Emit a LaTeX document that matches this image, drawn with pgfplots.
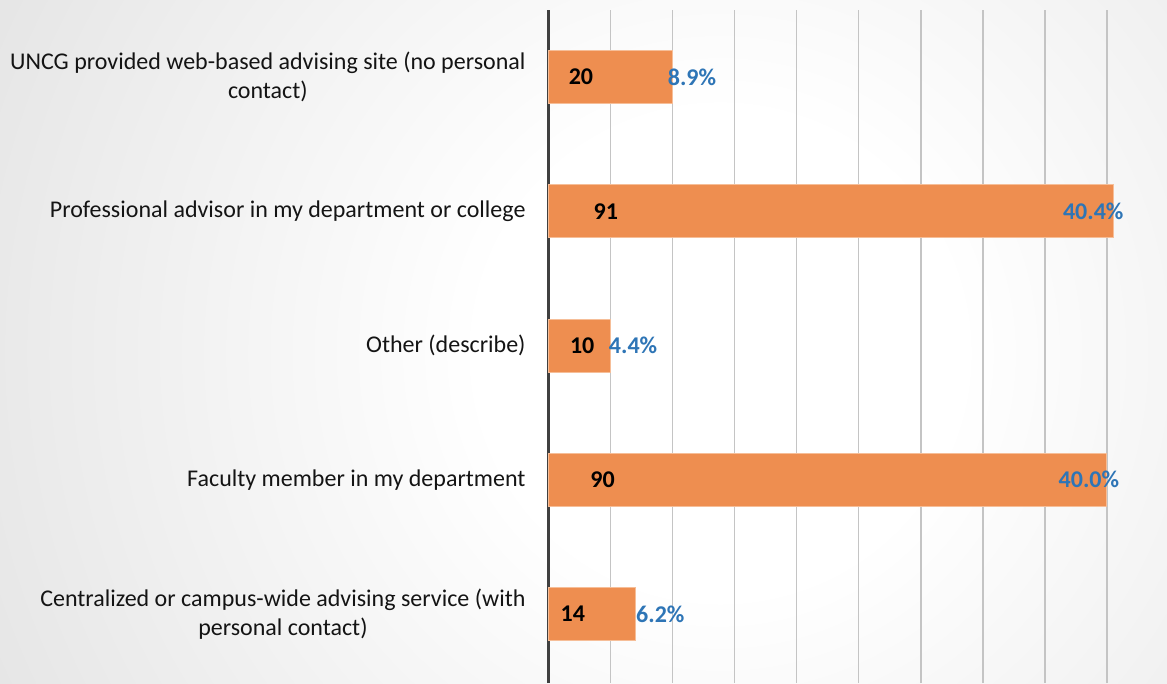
\documentclass[border=0pt]{standalone}
\usepackage{pgfplots}
\usepackage{pgfplotstable}
\pgfplotsset{compat=1.18}
\usepackage{fontspec}
\setmainfont{Carlito}
\definecolor{barorange}{HTML}{EE8E50}
\definecolor{baredge}{HTML}{F6BE98}
\definecolor{labblue}{HTML}{2E75B6}
\definecolor{gridc}{HTML}{C4C4C4}
\definecolor{axisc}{HTML}{404040}
\pgfdeclareradialshading{bgshade}{\pgfpoint{0bp}{0bp}}{color(0bp)=(white); color(6bp)=(white); color(37bp)=(black!22); color(50bp)=(black!24)}

\pgfplotstableread{
y v
0 14
1 90
2 10
3 91
4 20
}\bars
\pgfplotstableread{
y lx lab
0 3.9 14
1 8.7 90
2 5.4 10
3 9.2 91
4 5.2 20
}\counts
\pgfplotstableread{
y px lab
0 18.0 6.2
1 87.1 40.0
2 13.6 4.4
3 87.8 40.4
4 23.1 8.9
}\pcts

\begin{document}
\begin{tikzpicture}[x=1pt,y=1pt]
\path[use as bounding box] (0,0) rectangle (1167,683);
\begin{scope}
\clip (0,0) rectangle (1167,683);
\shade[shading=bgshade] (720,330) circle (1000);
\end{scope}
\begin{axis}[
  at={(548.7pt,0pt)}, anchor=south west,
  scale only axis, width=618.3pt, height=673pt,
  xmin=0, xmax=99.7, ymin=-0.514, ymax=4.5,
  clip=false,
  axis lines*=left,
  x axis line style={draw=none},
  y axis line style={draw=axisc, line width=3pt, -},
  xtick={10,20,...,90}, xticklabels={},
  xmajorgrids, grid style={gridc, line width=1.4pt},
  ytick={0,1,2,3,4},
  yticklabels={{Centralized or campus-wide advising service (with\\personal contact)},
    {Faculty member in my department},
    {Other (describe)},
    {Professional advisor in my department or college},
    {UNCG provided web-based advising site (no personal\\contact)}},
  yticklabel style={align=center, anchor=east, inner sep=0pt, xshift=-23pt,
    font=\fontsize{24}{29}\selectfont, text=black!92},
  major tick length=0pt,
  tick style={draw=none},
]
\addplot[xbar, bar width=53pt, fill=barorange, draw=baredge, line width=1pt]
  table[x=v, y=y]{\bars};
\addplot[draw=none, mark=none, nodes near coords, point meta=explicit symbolic,
  every node near coord/.style={anchor=center, inner sep=0pt,
    font=\fontsize{24}{29}\selectfont\bfseries, text=black}]
  table[x=lx, y=y, meta=lab]{\counts};
\addplot[draw=none, mark=none, nodes near coords={\pgfplotspointmeta\%}, point meta=explicit symbolic,
  every node near coord/.style={anchor=center, inner sep=0pt,
    font=\fontsize{24}{29}\selectfont\bfseries, text=labblue}]
  table[x=px, y=y, meta=lab]{\pcts};
\end{axis}
\end{tikzpicture}
\end{document}
